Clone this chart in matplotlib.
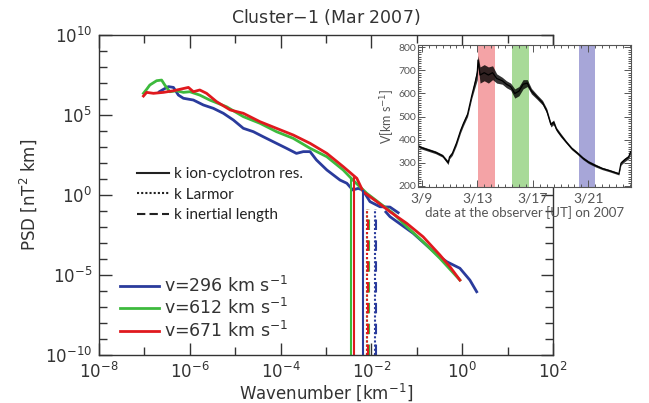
import numpy as np
import matplotlib
matplotlib.use("Agg")
import matplotlib.pyplot as plt
from matplotlib.ticker import FixedLocator, LogFormatterMathtext, NullFormatter
from matplotlib.lines import Line2D

# spectra (log10 k [km^-1], log10 PSD [nT^2 km])
red_logk = [-7.02, -6.95, -6.80, -6.58, -6.36, -6.22, -6.03, -5.92, -5.78, -5.63, -5.41, -5.11,
            -4.82, -4.45, -4.09, -3.72, -3.35, -2.98, -2.62, -2.32, -2.18, -1.88, -1.59, -1.22,
            -0.86, -0.49, -0.27, -0.05]
red_logp = [6.18, 6.41, 6.35, 6.41, 6.51, 6.60, 6.72, 6.45, 6.56, 6.35, 5.83, 5.31,
            5.10, 4.57, 4.16, 3.74, 3.22, 2.59, 1.76, 1.03, 0.19, -0.43, -1.06, -1.79,
            -2.63, -3.77, -4.50, -5.34]

green_logk = [-7.02, -6.95, -6.88, -6.73, -6.62, -6.55, -6.44, -6.29, -6.14, -6.00, -5.78, -5.56,
              -5.19, -4.82, -4.45, -4.09, -3.72, -3.35, -2.98, -2.62, -2.40, -2.10, -1.81, -1.52,
              -1.22, -0.86, -0.49, -0.05]
green_logp = [6.35, 6.60, 6.87, 7.14, 7.18, 6.87, 6.45, 6.51, 6.41, 6.45, 6.24, 5.93,
              5.51, 4.89, 4.47, 3.95, 3.53, 2.91, 2.38, 1.55, 0.90, 0.09, -0.54, -1.16,
              -2.00, -2.94, -3.98, -5.34]

blue_logk = [-6.67, -6.58, -6.47, -6.36, -6.25, -6.14, -5.92, -5.70, -5.48, -5.26, -5.04, -4.82,
             -4.60, -4.38, -4.09, -3.87, -3.65, -3.50, -3.35, -3.21, -2.98, -2.69, -2.54, -2.41,
             -2.29, -2.19, -2.03, -1.81, -1.59, -1.41]
blue_logp = [6.45, 6.60, 6.77, 6.72, 6.24, 6.04, 5.93, 5.62, 5.41, 5.10, 4.68, 4.16,
             3.95, 3.63, 3.22, 2.91, 2.59, 2.70, 2.70, 2.18, 1.55, 0.92, 0.72, 0.30,
             0.40, 0.30, -0.43, -0.75, -0.77, -1.12]
# high-k part of the blue spectrum (second instrument)
blue_hi_logk = [-1.68, -1.59, -1.08, -0.71, -0.49, -0.34, -0.05, 0.17, 0.32]
blue_hi_logp = [-1.08, -1.37, -2.41, -3.35, -3.88, -4.19, -4.60, -5.34, -6.07]

labels = ["v=296 km s$^{-1}$", "v=612 km s$^{-1}$", "v=671 km s$^{-1}$"]
colors = ["#2a3b9c", "#3dba3d", "#e0191e"]

# characteristic wavenumbers (log10 k) for blue, green, red
k_ic = [-2.19, -2.45, -2.38]
k_larmor = [-1.93, -2.09, -2.10]
k_inertial = [-1.89, -2.06, -2.07]

# solar wind speed at the observer (day of March 2007, km/s)
v_day = [8.75, 9.0, 9.5, 10.0, 10.5, 10.9, 11.0, 11.2, 11.5, 11.8, 12.0, 12.3, 12.6, 12.85,
         13.0, 13.05, 13.2, 13.5, 13.8, 14.1, 14.4, 14.8, 15.1, 15.4, 15.7, 16.0, 16.3, 16.6,
         16.9, 17.3, 17.7, 18.0, 18.3, 18.5, 18.7, 19.0, 19.4, 19.8, 20.2, 20.6, 21.0, 21.5,
         22.0, 22.5, 23.0, 23.2, 23.35, 23.6, 23.9, 24.05]
v_kms = [372, 365, 355, 345, 330, 300, 325, 340, 385, 440, 470, 510, 590, 650,
         690, 745, 680, 690, 680, 690, 665, 655, 640, 630, 600, 610, 640, 645,
         610, 585, 560, 525, 465, 475, 445, 420, 390, 362, 342, 320, 303, 288,
         275, 266, 256, 252, 298, 312, 325, 348]
v_spread = [6, 6, 6, 6, 6, 8, 8, 8, 10, 10, 10, 10, 12, 20,
            30, 20, 35, 35, 35, 30, 20, 15, 15, 15, 20, 20, 20, 15,
            12, 10, 10, 10, 10, 10, 8, 8, 6, 6, 6, 6, 6, 6,
            5, 5, 5, 5, 8, 8, 8, 8]
bands = [(13.05, 14.25), (15.5, 16.7), (20.3, 21.5)]
band_colors = ["#f4a3a6", "#a8da98", "#a7a6d8"]

fig = plt.figure(figsize=(6.49, 4.03), dpi=100)
ax = fig.add_axes([0.1525, 0.1203, 0.6995, 0.7928])
ax.set_xscale("log")
ax.set_yscale("log")
ax.set_xlim(1e-8, 1e2)
ax.set_ylim(1e-10, 1e10)

curves = [(blue_logk, blue_logp), (green_logk, green_logp), (red_logk, red_logp)]
for (lk, lp), c in zip(curves, colors):
    ax.plot(10 ** np.array(lk), 10 ** np.array(lp), color=c, lw=2.0)
ax.plot(10 ** np.array(blue_hi_logk), 10 ** np.array(blue_hi_logp), color=colors[0], lw=2.0, zorder=1.5)

# vertical markers from the spectrum down to the bottom
for i, ((lk, lp), c) in enumerate(zip(curves, colors)):
    top = 10 ** np.interp(k_ic[i], lk, lp)
    ax.vlines(10 ** k_ic[i], 1e-10, top, color=c, lw=1.5)
    ax.vlines(10 ** k_larmor[i], 1e-10, 10 ** -0.9, color=c, lw=1.5, linestyles=(0, (1, 1)))
    ax.vlines(10 ** k_inertial[i], 1e-10, 10 ** -0.9, color=c, lw=1.5, linestyles=(0, (5, 5)))

ax.set_xticks([10.0 ** e for e in range(-8, 3, 2)])
ax.xaxis.set_minor_locator(FixedLocator([10.0 ** e for e in range(-7, 2, 2)]))
ax.set_yticks([10.0 ** e for e in range(-10, 11, 5)])
ax.yaxis.set_minor_locator(FixedLocator([10.0 ** e for e in range(-10, 11) if e % 5]))
ax.xaxis.set_major_formatter(LogFormatterMathtext())
ax.yaxis.set_major_formatter(LogFormatterMathtext())
ax.xaxis.set_minor_formatter(NullFormatter())
ax.yaxis.set_minor_formatter(NullFormatter())
ax.tick_params(which="both", direction="in", top=True, right=True, width=1.0, color="#333333",
               labelsize=12, labelcolor="#333333")
ax.tick_params(which="major", length=9, pad=5)
ax.tick_params(which="minor", length=6)
for s in ax.spines.values():
    s.set_linewidth(1.0)
    s.set_color("#333333")

ax.set_xlabel("Wavenumber [km$^{-1}$]", fontsize=12, color="#333333", labelpad=0)
ax.set_ylabel("PSD [nT$^2$ km]", fontsize=12, color="#333333", labelpad=4)
ax.set_title("Cluster$-$1 (Mar 2007)", fontsize=12.5, color="#333333", pad=9)

h1 = [Line2D([], [], color=c, lw=2.0) for c in colors]
leg1 = ax.legend(h1, labels, loc="lower left", bbox_to_anchor=(0.03, 0.02), frameon=False,
                 fontsize=12.5, handlelength=2.3, handletextpad=0.25, labelspacing=0.15,
                 borderaxespad=0)
for t in leg1.get_texts():
    t.set_color("#333333")
ax.add_artist(leg1)

h2 = [Line2D([], [], color="#222222", lw=1.5, ls=s) for s in ["-", (0, (1, 1)), (0, (4, 2))]]
leg2 = ax.legend(h2, ["k ion-cyclotron res.", "k Larmor", "k inertial length"],
                 loc="upper left", bbox_to_anchor=(0.07, 0.605), frameon=False,
                 prop={"family": "Lato", "size": 11}, handlelength=2.1, handletextpad=0.3,
                 labelspacing=0.42, borderaxespad=0)
for t in leg2.get_texts():
    t.set_color("#222222")

# inset: solar wind speed
ins = fig.add_axes([0.6445, 0.5367, 0.3273, 0.3516])
for (a, b), c in zip(bands, band_colors):
    ins.axvspan(a, b, color=c, lw=0)
vd = np.array(v_day)
vk = np.array(v_kms)
vs = np.array(v_spread)
ins.fill_between(vd, vk - vs, vk + vs, color="black", lw=0, alpha=0.8)
ins.plot(vd, vk, color="black", lw=0.9)
ins.set_xlim(8.75, 24.05)
ins.set_ylim(196, 810)
ins.set_xticks([9, 13, 17, 21])
ins.set_xticklabels(["3/9", "3/13", "3/17", "3/21"])
ins.xaxis.set_minor_locator(FixedLocator(np.arange(9, 24.1, 0.5)))
ins.set_yticks([200, 300, 400, 500, 600, 700, 800])
ins.yaxis.set_minor_locator(FixedLocator(np.arange(200, 810, 10)))
ins.tick_params(which="both", direction="in", top=True, right=True, color="#555555", width=0.7)
ins.tick_params(which="major", length=5, pad=3)
ins.tick_params(which="minor", length=2.5)
ins.tick_params(axis="y", labelsize=7.5, labelcolor="#555555", pad=1.5)
ins.tick_params(axis="x", labelsize=10, labelcolor="#555555", pad=4)
for t in ins.get_xticklabels() + ins.get_yticklabels():
    t.set_family("Lato")
for s in ins.spines.values():
    s.set_color("#555555")
    s.set_linewidth(0.8)
ins.set_xlabel("date at the observer [UT] on 2007", fontsize=9.5, color="#555555",
               family="Lato", labelpad=1)
ins.set_ylabel("V[km s$^{-1}$]", fontsize=9, color="#555555", family="Lato", labelpad=1)

fig.savefig("out.png", dpi=100)
